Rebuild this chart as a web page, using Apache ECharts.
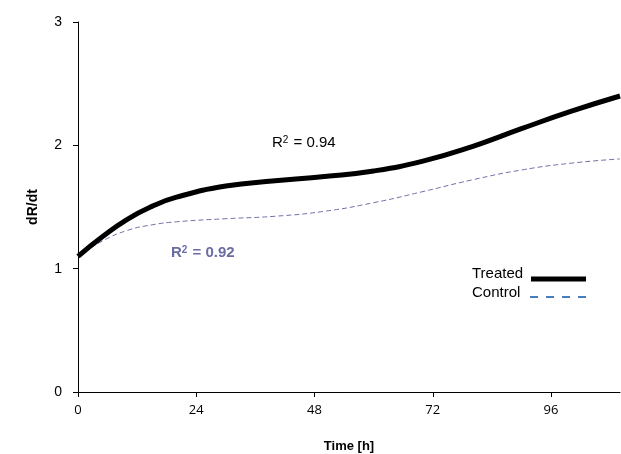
<!DOCTYPE html>
<html>
<head>
<meta charset="utf-8">
<script src="https://cdn.jsdelivr.net/npm/echarts@6/dist/echarts.min.js"></script>
<style>
  html, body { margin: 0; padding: 0; background: #fff; }
  #chart { width: 621px; height: 454px; }
</style>
</head>
<body>
<div id="chart"></div>
<script>
// hours
const hours = [0, 5, 10, 15, 20, 30, 40, 50, 60, 70, 80, 90, 100, 110];
const treated = [1.10, 1.26, 1.40, 1.505, 1.58, 1.67, 1.712, 1.747, 1.792, 1.872, 1.99, 2.135, 2.275, 2.40];
const control = [1.10, 1.225, 1.31, 1.355, 1.38, 1.405, 1.425, 1.465, 1.535, 1.625, 1.72, 1.80, 1.855, 1.89];
const xTicks = [0, 24, 48, 72, 96];
const yTicks = [0, 1, 2, 3];

const pair = (xs, ys) => xs.map((x, i) => [x, ys[i]]);

const chart = echarts.init(document.getElementById("chart"));

chart.setOption({
  animation: false,
  textStyle: { fontFamily: "Liberation Sans, Arial, sans-serif" },
  grid: { left: 78, right: 1, top: 22, bottom: 62, outerBoundsMode: "none" },
  xAxis: {
    type: "value",
    min: 0,
    max: 110,
    name: "Time [h]",
    nameLocation: "middle",
    nameGap: 48,
    nameTextStyle: { fontSize: 13, fontWeight: "bold", color: "#000" },
    splitLine: { show: false },
    axisLine: { lineStyle: { color: "#000", width: 1 } },
    axisTick: { show: true, length: 5, customValues: xTicks, lineStyle: { color: "#000" } },
    axisLabel: {
      customValues: xTicks,
      color: "#000",
      fontSize: 13,
      fontFamily: "Open Sans, sans-serif",
      margin: 12
    }
  },
  yAxis: {
    type: "value",
    min: 0,
    max: 3,
    interval: 1,
    name: "dR/dt",
    nameLocation: "middle",
    nameGap: 38,
    nameTextStyle: { fontSize: 14, fontWeight: "bold", color: "#000" },
    splitLine: { show: false },
    axisLine: { show: true, lineStyle: { color: "#000", width: 1 } },
    axisTick: { show: true, length: 5, customValues: yTicks, lineStyle: { color: "#000" } },
    axisLabel: { customValues: yTicks, color: "#000", fontSize: 14, margin: 16 }
  },
  graphic: [
    {
      type: "text",
      left: 272,
      top: 135,
      style: {
        text: "R{s|2} = 0.94",
        fill: "#000",
        font: "15px Liberation Sans, Arial, sans-serif",
        rich: { s: { fontSize: 10, verticalAlign: "top", padding: [0, 1, 6, 0], fill: "#000" } }
      }
    },
    {
      type: "text",
      left: 171,
      top: 245,
      style: {
        text: "R{s|2} = 0.92",
        fill: "#6b6ca3",
        font: "bold 15px Liberation Sans, Arial, sans-serif",
        rich: { s: { fontSize: 10, fontWeight: "bold", verticalAlign: "top", padding: [0, 1, 6, 0], fill: "#6b6ca3" } }
      }
    },
    // legend
    {
      type: "text",
      left: 472,
      top: 266,
      style: { text: "Treated", fill: "#000", font: "15px Liberation Sans, Arial, sans-serif" }
    },
    {
      type: "line",
      shape: { x1: 531, y1: 279, x2: 586, y2: 279 },
      style: { stroke: "#000", lineWidth: 5 }
    },
    {
      type: "text",
      left: 472,
      top: 285,
      style: { text: "Control", fill: "#000", font: "15px Liberation Sans, Arial, sans-serif" }
    },
    {
      type: "line",
      shape: { x1: 530, y1: 297, x2: 588, y2: 297 },
      style: { stroke: "#4a7ebf", lineWidth: 2, lineDash: [8, 8] }
    }
  ],
  series: [
    {
      name: "Control",
      type: "line",
      data: pair(hours, control),
      smooth: 0.5,
      showSymbol: false,
      symbol: "none",
      lineStyle: { color: "#6e70a8", width: 1, type: [5, 3] },
      itemStyle: { color: "#6e70a8" }
    },
    {
      name: "Treated",
      type: "line",
      data: pair(hours, treated),
      smooth: 0.5,
      showSymbol: false,
      symbol: "none",
      lineStyle: { color: "#000", width: 5 },
      itemStyle: { color: "#000" }
    }
  ]
});
</script>
</body>
</html>
